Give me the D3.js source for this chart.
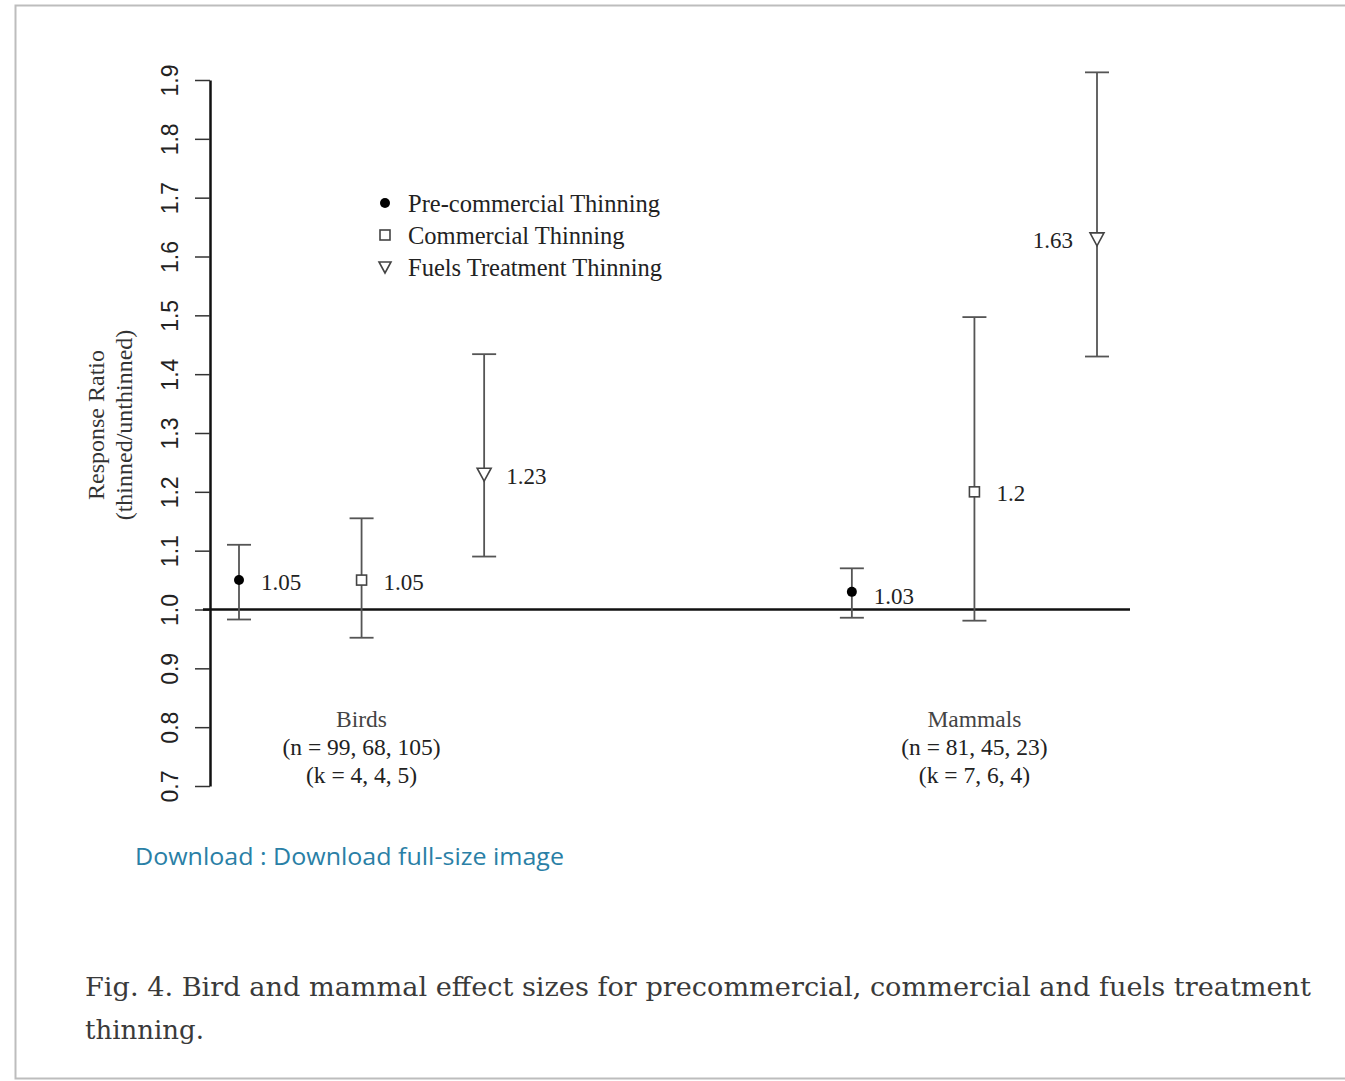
<!DOCTYPE html>
<html>
<head>
<meta charset="utf-8">
<script src="https://cdn.jsdelivr.net/npm/d3@7"></script>
<style>
  html, body { margin: 0; padding: 0; background: #fff; }
  svg { display: block; }
</style>
</head>
<body>
<div id="chart"></div>
<script>
// chart values
const groups = ['Birds', 'Mammals'];
const treatments = ['Pre-commercial Thinning', 'Commercial Thinning', 'Fuels Treatment Thinning'];
const birdMeans = [1.05, 1.05, 1.23];
const birdLower = [0.983, 0.952, 1.09];
const birdUpper = [1.11, 1.155, 1.434];
const mammalMeans = [1.03, 1.2, 1.63];
const mammalLower = [0.986, 0.981, 1.43];
const mammalUpper = [1.07, 1.497, 1.913];
const valueLabels = [['1.05', '1.05', '1.23'], ['1.03', '1.2', '1.63']];
const nLabels = ['(n = 99, 68, 105)', '(n = 81, 45, 23)'];
const kLabels = ['(k = 4, 4, 5)', '(k = 7, 6, 4)'];
const yTicks = [0.7, 0.8, 0.9, 1.0, 1.1, 1.2, 1.3, 1.4, 1.5, 1.6, 1.7, 1.8, 1.9];

const width = 1345, height = 1081;
const serif = '"Liberation Serif", "DejaVu Serif", serif';
const sans = '"Liberation Sans", Arial, sans-serif';

const svg = d3.select('#chart')
    .append('svg')
    .attr('width', width)
    .attr('height', height);

// page frame
svg.append('rect')
    .attr('x', 15.5).attr('y', 5.5)
    .attr('width', 1340).attr('height', 1073)
    .style('fill', '#fff')
    .style('stroke', '#bdbdbd')
    .style('stroke-width', 2);

// scales: positions 1-3 birds, 6-8 mammals
const x = d3.scaleLinear().domain([1, 8]).range([239, 1097]);
const y = d3.scaleLinear().domain([0.7, 1.9]).range([786, 80]);

// build point rows
const rows = [];
[[birdMeans, birdLower, birdUpper], [mammalMeans, mammalLower, mammalUpper]].forEach((g, gi) => {
    g[0].forEach((m, ti) => {
        rows.push({
            group: gi, treat: ti, pos: gi * 5 + ti + 1,
            mean: m, lo: g[1][ti], hi: g[2][ti], label: valueLabels[gi][ti]
        });
    });
});

// y axis
const yAxis = d3.axisLeft(y)
    .tickValues(yTicks)
    .tickFormat(d3.format('.1f'))
    .tickSize(15)
    .tickSizeOuter(0);

const ax = svg.append('g')
    .attr('transform', `translate(${x(1) - 29}, 0)`)
    .call(yAxis);
ax.select('.domain')
    .style('stroke', '#111')
    .style('stroke-width', 2.5);
ax.selectAll('.tick line')
    .style('stroke', '#333')
    .style('stroke-width', 1.5);
ax.selectAll('.tick text')
    .attr('x', 0).attr('dy', 0)
    .attr('transform', 'translate(-40,0) rotate(-90)')
    .attr('text-anchor', 'middle')
    .attr('dominant-baseline', 'central')
    .style('font-family', sans)
    .style('font-size', '23px')
    .style('fill', '#222');

// axis title
const title = svg.append('text')
    .attr('transform', 'translate(110, 425) rotate(-90)')
    .attr('text-anchor', 'middle')
    .style('font-family', serif)
    .style('font-size', '24px')
    .style('fill', '#333');
title.append('tspan').attr('x', 0).attr('dy', -6).text('Response Ratio');
title.append('tspan').attr('x', 0).attr('dy', 28).text('(thinned/unthinned)');

// reference line at 1.0
svg.append('line')
    .attr('x1', x(1) - 36).attr('x2', 1130)
    .attr('y1', y(1)).attr('y2', y(1))
    .style('stroke', '#111')
    .style('stroke-width', 2.5);

// error bars
const bars = svg.append('g').selectAll('g')
    .data(rows)
    .enter()
    .append('g')
    .style('stroke', '#555')
    .style('stroke-width', 1.8);

bars.append('line')
    .attr('x1', d => x(d.pos)).attr('x2', d => x(d.pos))
    .attr('y1', d => y(d.lo)).attr('y2', d => y(d.hi));
bars.append('line')
    .attr('x1', d => x(d.pos) - 12).attr('x2', d => x(d.pos) + 12)
    .attr('y1', d => y(d.hi)).attr('y2', d => y(d.hi));
bars.append('line')
    .attr('x1', d => x(d.pos) - 12).attr('x2', d => x(d.pos) + 12)
    .attr('y1', d => y(d.lo)).attr('y2', d => y(d.lo));

// markers
function drawMarker(sel, treat) {
    if (treat === 0) {
        sel.append('circle').attr('r', 5).style('fill', '#000');
    } else if (treat === 1) {
        sel.append('rect')
            .attr('x', -5).attr('y', -5).attr('width', 10).attr('height', 10)
            .style('fill', '#fff').style('stroke', '#444').style('stroke-width', 1.6);
    } else {
        sel.append('path')
            .attr('d', 'M-7,-6 L7,-6 L0,7 Z')
            .style('fill', '#fff').style('stroke', '#444').style('stroke-width', 1.6);
    }
}

rows.forEach(d => {
    const g = svg.append('g')
        .attr('transform', `translate(${x(d.pos)}, ${y(d.mean)})`);
    drawMarker(g, d.treat);
});

// value labels
svg.append('g').selectAll('text')
    .data(rows)
    .enter()
    .append('text')
    .attr('x', d => d.label === '1.63' ? x(d.pos) - 24 : x(d.pos) + 22)
    .attr('y', d => y(d.mean) + (d.label === '1.03' ? 5 : 2))
    .attr('text-anchor', d => d.label === '1.63' ? 'end' : 'start')
    .attr('dominant-baseline', 'central')
    .style('font-family', serif)
    .style('font-size', '23px')
    .style('fill', '#222')
    .text(d => d.label);

// legend
const legend = svg.append('g').selectAll('g')
    .data(treatments)
    .enter()
    .append('g')
    .attr('transform', (d, i) => `translate(385, ${203 + i * 32})`);
legend.each(function(d, i) {
    const g = d3.select(this);
    if (i === 0) {
        g.append('circle').attr('r', 5).style('fill', '#000');
    } else if (i === 1) {
        g.append('rect').attr('x', -5).attr('y', -5).attr('width', 10).attr('height', 10)
            .style('fill', '#fff').style('stroke', '#444').style('stroke-width', 1.6);
    } else {
        g.append('path').attr('d', 'M-6,-5 L6,-5 L0,6 Z')
            .style('fill', '#fff').style('stroke', '#444').style('stroke-width', 1.6);
    }
});
legend.append('text')
    .attr('x', 23)
    .attr('dominant-baseline', 'central')
    .style('font-family', serif)
    .style('font-size', '24.5px')
    .style('fill', '#222')
    .text(d => d);

// group labels
const glab = svg.append('g').selectAll('text')
    .data(groups)
    .enter()
    .append('text')
    .attr('text-anchor', 'middle')
    .style('font-family', serif)
    .style('font-size', '23.5px')
    .style('fill', '#222');
glab.append('tspan').attr('x', (d, i) => x(i * 5 + 2)).attr('y', 727).style('fill', '#444').text(d => d);
glab.append('tspan').attr('x', (d, i) => x(i * 5 + 2)).attr('y', 755).text((d, i) => nLabels[i]);
glab.append('tspan').attr('x', (d, i) => x(i * 5 + 2)).attr('y', 783).text((d, i) => kLabels[i]);

// download link
svg.append('text')
    .attr('x', 135).attr('y', 865)
    .attr('textLength', 429).attr('lengthAdjust', 'spacingAndGlyphs')
    .style('font-family', '"Open Sans", Lato, sans-serif')
    .style('font-size', '24px')
    .style('fill', '#2a7fa6')
    .text('Download : Download full-size image');

// caption
const cap = svg.append('text')
    .style('font-family', '"DejaVu Serif", serif')
    .style('font-size', '26px')
    .style('fill', '#3a3a3a');
cap.append('tspan').attr('x', 85).attr('y', 996)
    .attr('textLength', 1226).attr('lengthAdjust', 'spacingAndGlyphs')
    .text('Fig. 4. Bird and mammal effect sizes for precommercial, commercial and fuels treatment');
cap.append('tspan').attr('x', 85).attr('y', 1039).text('thinning.');
</script>
</body>
</html>
